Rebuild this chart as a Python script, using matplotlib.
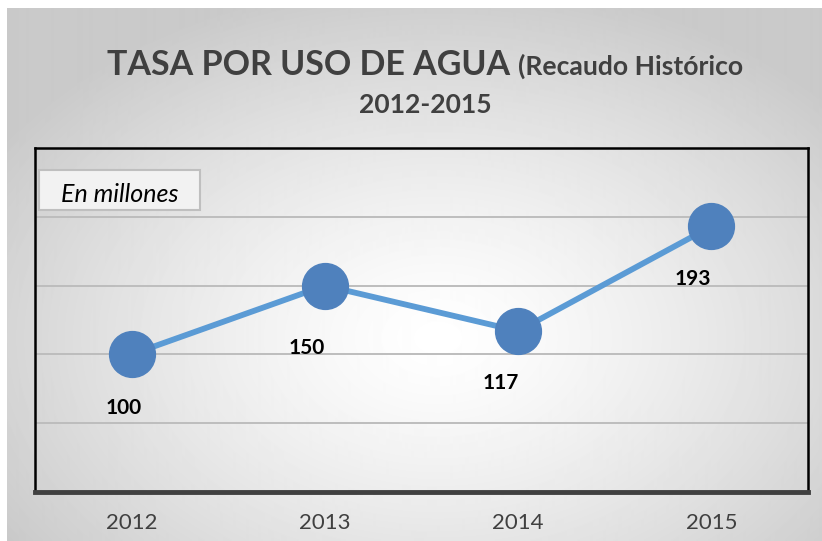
import numpy as np
import matplotlib

matplotlib.use("Agg")
import matplotlib.pyplot as plt  # noqa: E402
from matplotlib.patches import Rectangle  # noqa: E402

plt.rcParams["font.family"] = ["Lato", "DejaVu Sans"]

years = ["2012", "2013", "2014", "2015"]
recaudo = [100, 150, 117, 193]
grid_levels = [50, 100, 150, 200]
# label nudges below each marker, in pixels
label_dx = [-8, -18, -17, -19]
label_dy = [-54, -62, -52, -53]

W, H = 822, 541
fig = plt.figure(figsize=(W / 100, H / 100), dpi=100)
fig.patch.set_facecolor("white")


def fx(px):
    return px / W


def fy(py):
    return 1 - py / H


# radial grey-to-white backdrop
bg = fig.add_axes([fx(7), 0, fx(W - 7), 1 - 8 / H], zorder=-10)
yy, xx = np.mgrid[0:533, 0:815]
r = np.sqrt(((xx - 430) / 520) ** 2 + ((yy - 330) / 360) ** 2)
shade = 1 - 0.21 * np.clip(r, 0, 1) ** 1.3
bg.imshow(shade, cmap="gray", vmin=0, vmax=1, aspect="auto", interpolation="bilinear")
bg.axis("off")

ax = fig.add_axes([fx(35), fy(492), fx(808 - 35), (492 - 148) / H])
ax.set_facecolor("none")
x = np.arange(len(years))
ax.set_xlim(-0.5, len(years) - 0.5)
ax.set_ylim(0, 250)
for g in grid_levels:
    ax.axhline(g, color="#BDBDBD", lw=1.4, zorder=1)
ax.plot(x, recaudo, color="#5B9BD5", lw=4.2, zorder=2, solid_capstyle="round")
ax.plot(x, recaudo, "o", ms=33, color="#4F81BD", zorder=3)
for xi, v, dx, dy in zip(x, recaudo, label_dx, label_dy):
    ax.annotate(str(v), (xi, v), xytext=(dx, dy), textcoords="offset pixels",
                ha="center", va="center", fontsize=15, fontweight="bold", color="black")

ax.set_yticks([])
ax.set_xticks(x)
ax.set_xticklabels(years, fontsize=16, color="#404040")
ax.tick_params(axis="x", length=0, pad=15)
for side in ("left", "right", "top"):
    ax.spines[side].set_color("black")
    ax.spines[side].set_linewidth(1.8)
ax.spines["bottom"].set_color("#404040")
ax.spines["bottom"].set_linewidth(3.5)

# title, two sizes on the first line, squeezed to span x=107..743
big, small = 27.0, 21.0
t1 = fig.text(0, fy(75), "TASA POR USO DE AGUA ", fontsize=big, fontweight="bold",
              color="#404040", ha="left", va="baseline")
t2 = fig.text(0, fy(75), "(Recaudo Histórico", fontsize=small, fontweight="bold",
              color="#404040", ha="left", va="baseline")
fig.canvas.draw()
total = t1.get_window_extent().width + t2.get_window_extent().width
k = (743 - 107) / total
t1.set_fontsize(big * k)
t2.set_fontsize(small * k)
fig.canvas.draw()
w1 = t1.get_window_extent().width
t1.set_x(fx(107))
t2.set_x(fx(107 + w1))
fig.text(fx(425), fy(113), "2012-2015", fontsize=small * k, fontweight="bold",
         color="#404040", ha="center", va="baseline")

# units box
fig.patches.append(Rectangle((fx(39), fy(210)), fx(200 - 39), (210 - 170) / H,
                             transform=fig.transFigure, facecolor="#F2F2F2",
                             edgecolor="#BFBFBF", lw=1.5, zorder=5))
fig.text(fx(120), fy(195), "En millones", fontsize=18, style="italic",
         color="black", ha="center", va="center", zorder=6)

fig.savefig("out.png", dpi=100)
plt.close(fig)
